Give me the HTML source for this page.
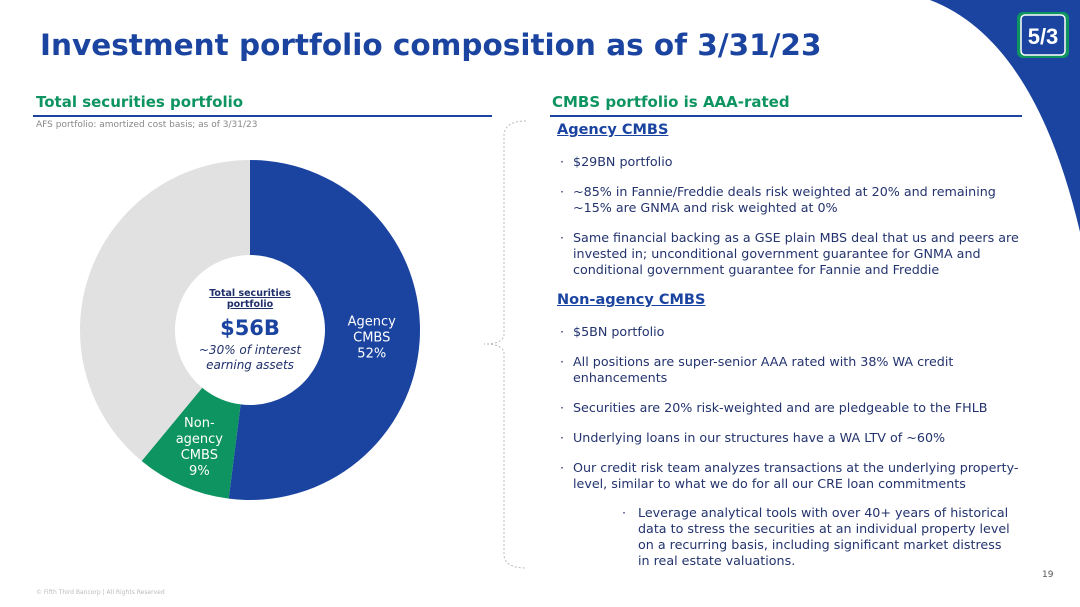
<!DOCTYPE html>
<html><head><meta charset="utf-8">
<style>
body{margin:0;width:1080px;height:607px;overflow:hidden;background:#fff;font-family:"DejaVu Sans","Liberation Sans",sans-serif;position:relative;color:#1f2f6b}
.a{position:absolute;margin:0}
.b{position:absolute;left:560px;font-size:12.7px;color:#23336e}
.b::before{content:"·";position:absolute;left:0}
.b span{display:block;margin-left:13px;line-height:16px}
h3{position:absolute;margin:0;font-size:14.5px;color:#1b44a0;text-decoration:underline;font-weight:bold}
</style></head><body>
<svg class="a" style="left:0;top:0" width="1080" height="607">
<path d="M930,0 Q1035,40 1080,232 L1080,0 Z" fill="#1b44a0"/>
<g><rect x="1017" y="12" width="52" height="46" rx="6" fill="#0e9460"/><rect x="1021" y="15" width="44" height="40" rx="4" fill="#1b44a0" stroke="#fff" stroke-width="1.5"/><text x="1043" y="44" font-size="22" font-weight="bold" fill="#fff" text-anchor="middle" font-family="Liberation Sans">5/3</text></g>
<line x1="33" y1="116" x2="492" y2="116" stroke="#1b44a0" stroke-width="2"/>
<line x1="550" y1="116" x2="1022" y2="116" stroke="#1b44a0" stroke-width="2"/>
<path d="M526,121 Q505,121 504,135 L504,334 Q504,344 484,344 Q504,344 504,354 L504,555 Q505,568 526,568" fill="none" stroke="#bbb" stroke-dasharray="2,2"/>
<g id="donut"></g>
</svg>
<div class="a" style="left:40px;top:28px;font-size:29.5px;font-weight:bold;color:#1b44a0">Investment portfolio composition as of 3/31/23</div>
<div class="a" style="left:36px;top:93px;font-size:15px;font-weight:bold;color:#0e9460">Total securities portfolio</div>
<div class="a" style="left:552px;top:93px;font-size:15px;font-weight:bold;color:#0e9460">CMBS portfolio is AAA-rated</div>
<div class="a" style="left:36px;top:120px;font-size:9px;color:#888">AFS portfolio: amortized cost basis; as of 3/31/23</div>
<div class="a" style="left:175px;top:288px;width:150px;text-align:center">
<div style="font-size:9.5px;font-weight:bold;text-decoration:underline;line-height:11px">Total securities<br>portfolio</div>
<div style="font-size:21px;font-weight:bold;margin-top:6px;color:#1b44a0">$56B</div>
<div style="font-size:12px;font-style:italic;line-height:15px;margin-top:3px">~30% of interest<br>earning assets</div></div>
<h3 style="left:557px;top:122px">Agency CMBS</h3>
<div class="b" style="top:154px"><span>$29BN portfolio</span></div>
<div class="b" style="top:184px"><span>~85% in Fannie/Freddie deals risk weighted at 20% and remaining<br>~15% are GNMA and risk weighted at 0%</span></div>
<div class="b" style="top:230px"><span>Same financial backing as a GSE plain MBS deal that us and peers are<br>invested in; unconditional government guarantee for GNMA and<br>conditional government guarantee for Fannie and Freddie</span></div>
<h3 style="left:557px;top:292px">Non-agency CMBS</h3>
<div class="b" style="top:324px"><span>$5BN portfolio</span></div>
<div class="b" style="top:354px"><span>All positions are super-senior AAA rated with 38% WA credit<br>enhancements</span></div>
<div class="b" style="top:400px"><span>Securities are 20% risk-weighted and are pledgeable to the FHLB</span></div>
<div class="b" style="top:430px"><span>Underlying loans in our structures have a WA LTV of ~60%</span></div>
<div class="b" style="top:460px"><span>Our credit risk team analyzes transactions at the underlying property-<br>level, similar to what we do for all our CRE loan commitments</span></div>
<div class="b" style="top:505px;left:622px"><span style="margin-left:16px">Leverage analytical tools with over 40+ years of historical<br>data to stress the securities at an individual property level<br>on a recurring basis, including significant market distress<br>in real estate valuations.</span></div>
<div class="a" style="left:1042px;top:570px;font-size:9px;color:#555">19</div>
<div class="a" style="left:36px;top:589px;font-size:6px;color:#bbb">© Fifth Third Bancorp | All Rights Reserved</div>
<script>
const segLabels=["Agency CMBS","Non-agency CMBS","Other"];
const segValues=[52,9,39];
const segColors=["#1b44a0","#0e9460","#e1e1e1"];
const cx=250,cy=330,R=170,r=75;
const g=document.getElementById('donut');
const ns="http://www.w3.org/2000/svg";
const total=segValues.reduce((a,b)=>a+b,0);
let acc=0;
function pt(rad,f){const a=f*2*Math.PI;return [cx+rad*Math.sin(a),cy-rad*Math.cos(a)];}
segValues.forEach((v,i)=>{
 const f0=acc/total,f1=(acc+v)/total;acc+=v;
 const L=(f1-f0)>0.5?1:0;
 const [x0,y0]=pt(R,f0),[x1,y1]=pt(R,f1),[x2,y2]=pt(r,f1),[x3,y3]=pt(r,f0);
 const p=document.createElementNS(ns,'path');
 p.setAttribute('d',`M${x0},${y0}A${R},${R} 0 ${L} 1 ${x1},${y1}L${x2},${y2}A${r},${r} 0 ${L} 0 ${x3},${y3}Z`);
 p.setAttribute('fill',segColors[i]);
 
 
 g.appendChild(p);
 if(i<2){
  const fm=(f0+f1)/2;const [lx,ly]=pt(i==0?122:(R+r)/2+5,fm);
  const words=i==0?["Agency","CMBS",v+"%"]:["Non-","agency","CMBS",v+"%"];
  const t=document.createElementNS(ns,'text');
  
  
  t.setAttribute('fill','#fff');t.setAttribute('font-size','13');t.setAttribute('text-anchor','middle');
  t.setAttribute('font-family','DejaVu Sans, sans-serif');
  const y0l=ly-(words.length-1)*8+4;
  words.forEach((w,k)=>{const s=document.createElementNS(ns,'tspan');s.setAttribute('x',lx);s.setAttribute('y',y0l+k*16);s.textContent=w;t.appendChild(s);});
  g.appendChild(t);
 }
});
</script>
</body></html>
